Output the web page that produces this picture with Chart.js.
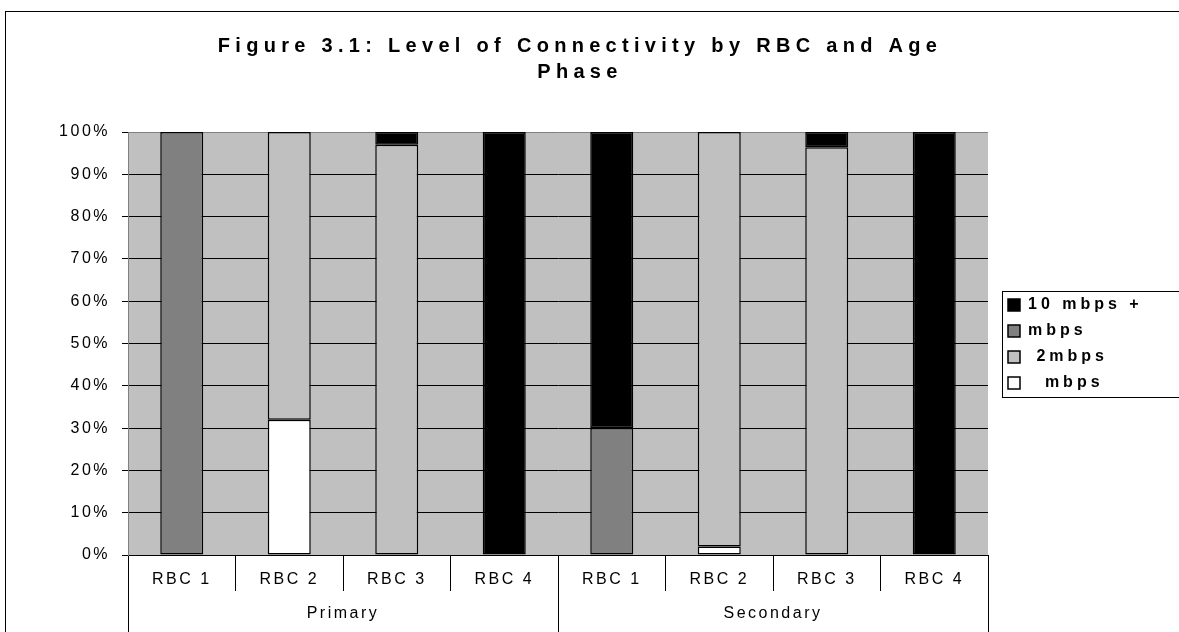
<!DOCTYPE html>
<html>
<head>
<meta charset="utf-8">
<title>Figure 3.1: Level of Connectivity by RBC and Age Phase</title>
<script src="https://cdn.jsdelivr.net/npm/chart.js@4.4.1/dist/chart.umd.min.js"></script>
<style>
  html, body { margin: 0; padding: 0; background: #fff; overflow: hidden; }
  #frame { position: absolute; left: 5px; top: 11px; width: 1300px; height: 700px; border: 1px solid #000; }
  #wrap { position: absolute; left: 0; top: 0; width: 1179px; height: 632px; }
</style>
</head>
<body>
<div id="frame"></div>
<div id="wrap"><canvas id="chart" width="1179" height="632"></canvas></div>
<script>
// Categories
const rbcLabels = ["RBC 1", "RBC 2", "RBC 3", "RBC 4", "RBC 1", "RBC 2", "RBC 3", "RBC 4"];
const phaseLabels = ["Primary", "Secondary"];
const yTickLabels = ["0%", "10%", "20%", "30%", "40%", "50%", "60%", "70%", "80%", "90%", "100%"];

// Series, bottom of the stack first (percent of schools)
const lowMbps = [0, 32, 0, 0, 0, 2, 0, 0];
const twoMbps = [0, 68, 97, 0, 0, 98, 96.4, 0];
const midMbps = [100, 0, 0, 0, 30, 0, 0, 0];
const tenPlus = [0, 0, 3, 100, 70, 0, 3.6, 100];

const seriesNames = ["  mbps", " 2mbps", "mbps", "10 mbps +"];
const seriesColors = ["#ffffff", "#c0c0c0", "#808080", "#000000"];

// layout numbers
const yAxisWidth = 128;
const legendWidth = 150;
const legendShiftX = 10;
const legendShiftY = 28;
const titleShift = 11;
const tickSpacing = "2.5px";
const legendSpacing = "4px";
const titleSpacing = "5.3px";

Chart.defaults.font.family = "'Liberation Sans', Arial, sans-serif";
Chart.defaults.color = "#000";

function withSpacing(box, spacing, dx) {
  if (!box || box._patched) return;
  const draw = box.draw;
  box.draw = function (...args) {
    const c = this.ctx;
    c.save();
    c.letterSpacing = spacing;
    c.translate(dx, 0);
    draw.apply(this, args);
    c.restore();
  };
  box._patched = true;
}

// grey plot area, letter spacing, legend frame
const excelLook = {
  id: "excelLook",
  beforeLayout(chart) {
    chart.ctx.letterSpacing = tickSpacing;
    withSpacing(chart.titleBlock, titleSpacing, titleShift);
    withSpacing(chart.legend, legendSpacing, 0);
    const lg = chart.legend;
    if (lg && !lg._fitPatched) {
      const fit = lg.fit;
      lg.fit = function () {
        fit.call(this);
        this.width = legendWidth;
      };
      lg._fitPatched = true;
    }
  },
  afterLayout(chart) {
    const lg = chart.legend;
    lg.left += legendShiftX;
    lg.right += legendShiftX;
    lg.top += legendShiftY;
    lg.bottom += legendShiftY;
  },
  beforeDraw(chart) {
    const { ctx, chartArea: a } = chart;
    ctx.letterSpacing = tickSpacing;
    ctx.save();
    ctx.fillStyle = "#c0c0c0";
    ctx.fillRect(a.left, a.top, a.width, a.height);
    ctx.restore();
  },
  afterDraw(chart) {
    const { ctx } = chart;
    const hb = chart.legend.legendHitBoxes;
    if (!hb || !hb.length) return;
    const x0 = Math.round(Math.min(...hb.map((h) => h.left)) - 6);
    const y0 = Math.round(hb[0].top - 6);
    const last = hb[hb.length - 1];
    const y1 = Math.round(last.top + last.height + 6);
    ctx.save();
    ctx.strokeStyle = "#000";
    ctx.lineWidth = 1;
    ctx.strokeRect(x0 + 0.5, y0 + 0.5, chart.width + 20 - x0, y1 - y0);
    ctx.restore();
  },
};

const seriesData = [lowMbps, twoMbps, midMbps, tenPlus];

new Chart(document.getElementById("chart"), {
  type: "bar",
  data: {
    labels: rbcLabels,
    datasets: seriesData.map((d, i) => ({
      label: seriesNames[i],
      data: d.map((v) => (v === 0 ? null : v)), // empty segments are not drawn
      backgroundColor: seriesColors[i],
      borderColor: "#000",
      borderWidth: 1.5,
      borderSkipped: false,
      inflateAmount: 0,
      barPercentage: 0.4,
      categoryPercentage: 1,
    })),
  },
  options: {
    responsive: false,
    animation: false,
    layout: { padding: { left: 0, right: 191 - legendWidth, top: 0, bottom: 0 } },
    plugins: {
      title: {
        display: true,
        text: ["Figure 3.1: Level of Connectivity by RBC and Age", "Phase"],
        font: { size: 20, weight: "bold", lineHeight: 1.3 },
        color: "#000",
        padding: { top: 33, bottom: 47 },
      },
      legend: {
        position: "right",
        reverse: true,
        labels: {
          boxWidth: 12,
          boxHeight: 12,
          padding: 10,
          color: "#000",
          font: { size: 16, weight: "bold" },
        },
      },
      tooltip: { enabled: false },
    },
    scales: {
      x: {
        stacked: true,
        weight: 0,
        grid: { offset: true, drawOnChartArea: false, tickLength: 36, color: "#000", lineWidth: 1 },
        border: { color: "#000", width: 1 },
        ticks: { padding: -21, color: "#000", font: { size: 16 }, maxRotation: 0, autoSkip: false },
        afterFit(s) { s.height = 36; },
      },
      x2: {
        type: "category",
        position: "bottom",
        labels: phaseLabels,
        offset: true,
        weight: 1,
        grid: { offset: true, drawOnChartArea: false, tickLength: 41, color: "#000", lineWidth: 1 },
        border: { display: false },
        ticks: { padding: -28, color: "#000", font: { size: 16 }, maxRotation: 0 },
        afterFit(s) { s.height = 41; },
      },
      y: {
        stacked: true,
        min: 0,
        max: 100,
        grid: {
          color: (c) => (c.tick && c.tick.value === 100 ? "#808080" : "#000"),
          tickColor: "#000",
          tickLength: 6,
          lineWidth: 1,
        },
        border: { color: "#808080", width: 1 },
        ticks: {
          stepSize: 10,
          padding: 12,
          color: "#000",
          font: { size: 16 },
          callback: (v) => yTickLabels[Math.round(v / 10)],
        },
        afterFit(s) { s.width = yAxisWidth; },
      },
    },
  },
  plugins: [excelLook],
});
</script>
</body>
</html>
